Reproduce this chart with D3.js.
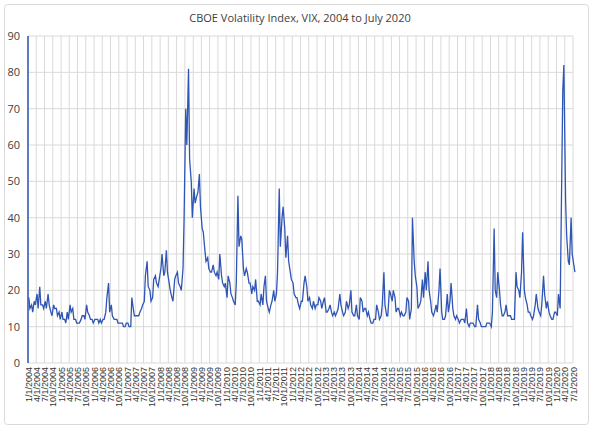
<!doctype html>
<html>
<head>
<script src="https://cdnjs.cloudflare.com/ajax/libs/d3/7.8.5/d3.min.js"></script>
<style>body{margin:0;background:#fff}</style>
</head>
<body>
<svg width="600" height="432"></svg>
<script>
    // two readings per month (mid, late)
    v2004 = [18,15,16,14,17,16,19,15,21,16,16,15,17,15,19,16,14,13,16,15,15,13,14,12]
    v2005 = [14,12,12,11,14,12,16,14,15,12,12,11,11,11,12,13,13,12,16,14,13,12,12,11]
    v2006 = [12,12,12,11,12,11,12,12,14,18,22,14,16,13,12,12,12,11,11,11,11,10,10,11]
    v2007 = [11,10,10,18,15,13,13,13,13,14,15,16,17,24,28,21,20,17,18,23,24,22,21,23]
    v2008 = [26,30,24,25,31,25,22,20,18,17,23,24,25,22,21,20,26,40,70,60,81,56,50,40]
    v2009 = [48,44,46,47,52,43,37,36,31,28,29,26,25,25,27,25,24,25,23,30,24,22,21,22]
    v2010 = [18,24,22,19,18,17,16,22,46,32,35,34,26,24,26,25,22,22,19,21,20,23,17,17]
    v2011 = [16,19,16,21,24,17,15,14,16,17,20,17,19,25,48,32,40,43,37,29,35,28,25,23]
    v2012 = [22,19,18,18,16,15,17,17,22,24,21,17,18,16,15,17,15,16,16,18,17,15,17,18]
    v2013 = [14,14,15,16,14,13,14,13,14,15,19,16,14,13,14,17,15,16,20,14,13,13,16,13]
    v2014 = [12,18,17,14,15,15,13,14,12,11,11,12,12,16,14,12,13,16,25,16,13,13,20,19]
    v2015 = [17,20,18,14,15,15,13,14,13,13,14,18,17,12,15,40,28,24,21,15,16,17,23,18]
    v2016 = [25,20,28,20,17,14,13,14,16,14,20,26,14,12,12,13,19,14,17,22,15,13,12,13]
    v2017 = [12,11,12,12,12,11,15,11,10,11,11,11,10,10,16,12,11,10,10,10,10,11,11,11]
    v2018 = [10,14,37,20,18,25,20,16,13,13,14,16,13,13,13,12,12,12,25,21,20,18,25,36]
    v2019 = [20,18,16,14,14,13,12,13,16,19,15,14,13,16,24,19,15,17,14,13,12,12,14,14]
    v2020 = [13,19,15,40,75,82,45,35,28,27,40,30,27,25]
    years = [2004,2005,2006,2007,2008,2009,2010,2011,2012,2013,2014,2015,2016,2017,2018,2019,2020]
    series = [v2004,v2005,v2006,v2007,v2008,v2009,v2010,v2011,v2012,v2013,v2014,v2015,v2016,v2017,v2018,v2019,v2020]
    yTicks = [0,10,20,30,40,50,60,70,80,90]

    data = []
    series.forEach((arr, yi) => arr.forEach((v, k) => {
        var m = Math.floor(k / 2)
        data.push({date: new Date(years[yi], m, k % 2 ? 22 : 10), value: v})
    }))

    quarters = d3.timeMonth.every(3).range(new Date(2004, 0, 1), new Date(2020, 7, 1))
    fmt = d => (d.getMonth() + 1) + "/1/" + d.getFullYear()

    var svg = d3.select("svg")
    svg.append("rect").attr("x", 4.5).attr("y", 4.5).attr("width", 584).attr("height", 420)
        .attr("rx", 3).style("fill", "#fff").style("stroke", "#d9d9d9")

    var x = d3.scaleTime().domain([new Date(2004, 0, 1), new Date(2020, 6, 1)]).range([28, 573])
    var y = d3.scaleLinear().domain([0, 90]).range([363, 36])

    svg.append("text").attr("x", 300).attr("y", 22).attr("text-anchor", "middle")
        .style("font", "11px 'Open Sans'").style("fill", "#404040")
        .text("CBOE Volatility Index, VIX, 2004 to July 2020")

    svg.selectAll("line.vg").data(quarters).enter().append("line").attr("class", "vg")
        .attr("x1", d => x(d)).attr("x2", d => x(d)).attr("y1", 36).attr("y2", 363)
        .style("stroke", "#d9d9d9")
    svg.selectAll("line.hg").data(yTicks).enter().append("line").attr("class", "hg")
        .attr("x1", 28).attr("x2", 573).attr("y1", d => y(d)).attr("y2", d => y(d))
        .style("stroke", "#d9d9d9")

    svg.selectAll("text.yl").data(yTicks).enter().append("text").attr("class", "yl")
        .attr("x", 20).attr("y", d => y(d) + 4).attr("text-anchor", "end")
        .style("font", "11px 'Open Sans'").style("fill", "#404040").text(d => d)

    svg.selectAll("text.xl").data(quarters).enter().append("text").attr("class", "xl")
        .attr("transform", d => "translate(" + (x(d) + 3.5) + ",367) rotate(-90)")
        .attr("text-anchor", "end")
        .style("font", "9px 'Liberation Sans'").style("fill", "#333").text(fmt)

    svg.append("line").attr("x1", 28).attr("x2", 28).attr("y1", 36).attr("y2", 363)
        .style("stroke", "#2f55b5").style("stroke-width", 1.5)

    svg.append("path").datum(data)
        .attr("d", d3.line().x(d => x(d.date)).y(d => y(d.value)))
        .style("fill", "none").style("stroke", "#2f55b5").style("stroke-width", 1.3)
</script>
</body>
</html>
